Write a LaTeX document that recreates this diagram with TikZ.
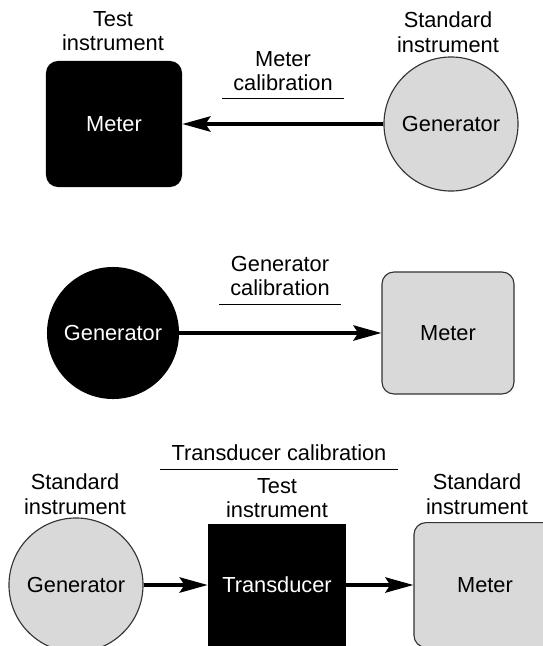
\documentclass[tikz,border=0pt]{standalone}
\usepackage{fontspec}
\setmainfont{Liberation Sans}
\usetikzlibrary{arrows.meta}

\tikzset{
  inst/.style = {align=center, inner sep=0pt, font=\fontsize{15.5}{17.5}\selectfont},
  caltitle/.style = {align=center, inner xsep=8pt, inner ysep=5.5pt, font=\fontsize{15.5}{17.5}\selectfont},
  blkbox/.style = {rectangle, fill=black, text=white, minimum width=3.4cm, minimum height=3.15cm, font=\fontsize{15.5}{17}\selectfont},
  grybox/.style = {rectangle, rounded corners=0.3cm, draw=black!80, line width=0.8pt, fill=black!15, minimum width=3.3cm, minimum height=3.05cm, font=\fontsize{15.5}{17}\selectfont},
  blkcirc/.style = {circle, fill=black, text=white, minimum size=3.3cm, inner sep=0pt, font=\fontsize{15.5}{17}\selectfont},
  grycirc/.style = {circle, draw=black!80, line width=0.8pt, fill=black!15, minimum size=3.35cm, inner sep=0pt, font=\fontsize{15.5}{17}\selectfont},
  flow/.style = {line width=2.7pt, -{Stealth[length=0.7cm, width=0.38cm, inset=0.12cm]}},
  rule/.style = {line width=0.7pt}
}

\begin{document}
\begin{tikzpicture}[x=0.025cm, y=-0.025cm]
\useasboundingbox (0,0) rectangle (542,646);

% meter calibration
\node[blkbox, rounded corners=0.3cm] (meterA) at (114,124) {Meter};
\node[grycirc] (genA) at (451,124) {Generator};
\node[inst] (testA) at (113,31) {Test\\instrument};
\node[inst] (stdA) at (448,32) {Standard\\instrument};
\node[caltitle] (calA) at (283,71) {Meter\\calibration};
\draw[rule] (calA.south west) -- (calA.south east);
\draw[flow] (genA) -- (meterA);

% generator calibration
\node[blkcirc] (genB) at (113,333) {Generator};
\node[grybox] (meterB) at (448,333) {Meter};
\node[caltitle] (calB) at (280,276) {Generator\\calibration};
\draw[rule] (calB.south west) -- (calB.south east);
\draw[flow] (genB) -- (meterB);

% transducer calibration
\node[grycirc] (genC) at (76,585) {Generator};
\node[blkbox, minimum width=3.45cm, minimum height=3.05cm] (trans) at (277,585) {Transducer};
\node[grybox, minimum width=3.55cm, minimum height=3.12cm] (meterC) at (485,585) {Meter};
\node[inst] (stdC) at (75,494) {Standard\\instrument};
\node[inst] (testC) at (277,498) {Test\\instrument};
\node[inst] (stdD) at (477,494) {Standard\\instrument};
\node[caltitle] (calC) at (279,453) {Transducer calibration};
\draw[rule] (calC.south west) -- (calC.south east);
\draw[flow] (genC) -- (trans);
\draw[flow] (trans) -- (meterC);
\end{tikzpicture}
\end{document}
